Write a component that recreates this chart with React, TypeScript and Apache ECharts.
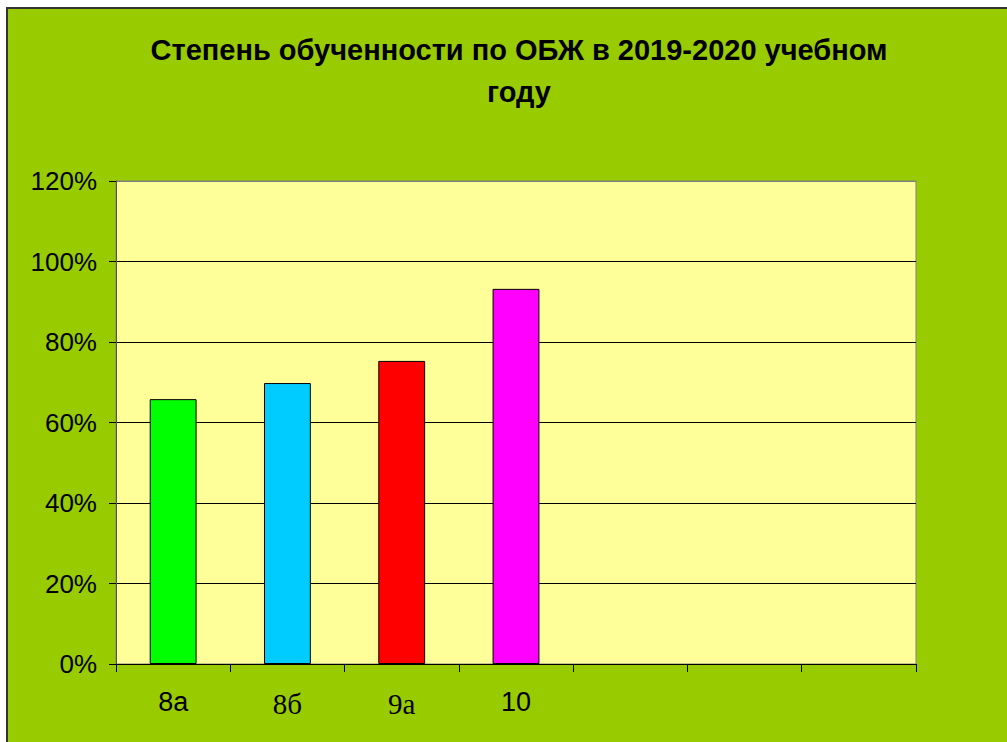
import React, { useEffect, useRef } from "react";
import * as echarts from "echarts";

const categories = ["8а", "8б", "9а", "10", "", "", ""];
const values = [65.8, 69.8, 75.3, 93.2, null, null, null];
const barColors = ["#00FF00", "#00CCFF", "#FF0000", "#FF00FF", "#000", "#000", "#000"];
const serifLabels = ["8б", "9а"];
const titleLines = ["Степень обученности по ОБЖ в 2019-2020 учебном", "году"];

export default function App() {
  const ref = useRef<HTMLDivElement>(null);
  useEffect(() => {
    document.body.style.margin = "0";
    const chart = echarts.init(ref.current!, null, { renderer: "svg" });
    chart.setOption({
      animation: false,
      backgroundColor: "#FFFFFF",
      graphic: [
        {
          type: "rect",
          z: -10,
          shape: { x: 7, y: 8, width: 1010, height: 740 },
          style: { fill: "#99CC00", stroke: "#333333", lineWidth: 2 },
          silent: true,
        },
        {
          type: "text",
          x: 519,
          y: 50,
          style: {
            text: titleLines[0],
            fill: "#000",
            font: "bold 29px 'Liberation Sans', Arial, sans-serif",
            textAlign: "center",
            textVerticalAlign: "middle",
          },
        },
        {
          type: "text",
          x: 519,
          y: 92,
          style: {
            text: titleLines[1],
            fill: "#000",
            font: "bold 29px 'Liberation Sans', Arial, sans-serif",
            textAlign: "center",
            textVerticalAlign: "middle",
          },
        },
      ],
      grid: {
        left: 116,
        top: 181,
        right: 91,
        bottom: 78,
        show: true,
        backgroundColor: "#FFFF99",
        borderColor: "#808080",
        borderWidth: 1,
      },
      xAxis: {
        type: "category",
        data: categories,
        axisLine: { lineStyle: { color: "#000", width: 1 } },
        axisTick: { show: true, length: 8, lineStyle: { color: "#000" } },
        axisLabel: {
          margin: 24,
          fontFamily: "'Liberation Sans', Arial, sans-serif",
          fontSize: 27,
          color: "#000",
          formatter: (v: string) => (serifLabels.includes(v) ? "{s|" + v + "}" : v),
          rich: {
            s: {
              fontFamily: "'Liberation Serif', 'Times New Roman', serif",
              fontSize: 29,
              color: "#000",
              padding: [1, 0, 0, 0],
            },
          },
        },
        splitLine: { show: false },
      },
      yAxis: {
        type: "value",
        min: 0,
        max: 120,
        interval: 20,
        axisLine: { show: true, lineStyle: { color: "#555", width: 1 } },
        axisTick: { show: true, length: 7, lineStyle: { color: "#000" } },
        axisLabel: {
          margin: 19,
          formatter: "{value}%",
          fontFamily: "'Liberation Sans', Arial, sans-serif",
          fontSize: 26,
          color: "#000",
        },
        splitLine: {
          show: true,
          lineStyle: {
            color: ["#000", "#000", "#000", "#000", "#000", "#000", "#808080"],
            width: 1,
          },
        },
      },
      series: [
        {
          type: "bar",
          data: values.map((v, i) => ({
            value: v,
            itemStyle: { color: barColors[i] },
          })),
          barWidth: "41%",
          itemStyle: { borderColor: "#000", borderWidth: 1 },
        },
      ],
    });
    return () => chart.dispose();
  }, []);
  return (
    <div
      ref={ref}
      style={{ position: "absolute", left: 0, top: 0, width: 1007, height: 742 }}
    />
  );
}
